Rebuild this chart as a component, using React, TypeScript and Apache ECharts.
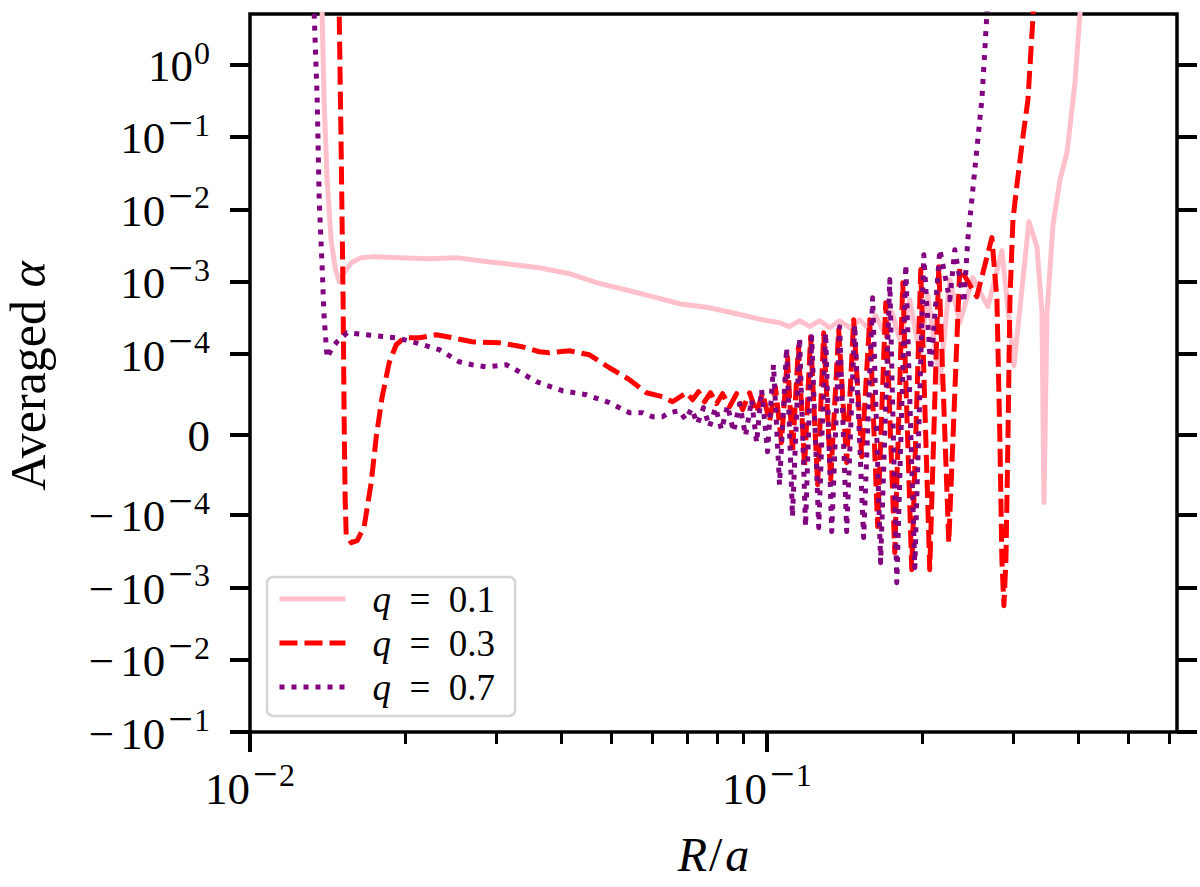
import { useEffect, useRef } from "react";
import * as echarts from "echarts";

// symlog scale as matplotlib draws it (linthresh 1e-4, linscale 1)
const LINTHRESH = 1e-4;
const LINSCALE = 1 / (1 - 1 / 10);

const X_MIN = 0.01;
const X_MAX = 0.6216;
const Y_MIN = -0.1;
const Y_MAX = 5;

const X_MAJOR_TICKS = [0.01, 0.1];
const X_MINOR_TICKS = [
  0.02, 0.03, 0.04, 0.05, 0.06, 0.07, 0.08, 0.09, 0.2, 0.3, 0.4, 0.5, 0.6,
];
const Y_TICKS = [-0.1, -0.01, -0.001, -0.0001, 0, 0.0001, 0.001, 0.01, 0.1, 1];

const SERIES_NAMES = ["q = 0.1", "q = 0.3", "q = 0.7"];
const SERIES_COLORS = ["#ffc0cb", "#ff0000", "#800080"];

// [R/a, averaged alpha]
const q01: [number, number][] = [
  [0.01367, 50], [0.01379, 5.1], [0.01391, 0.329], [0.0141, 0.0258],
  [0.01435, 0.00381], [0.01461, 0.00156], [0.01488, 0.001], [0.01521, 0.00133],
  [0.0157, 0.00183], [0.01641, 0.00215], [0.01739, 0.00222], [0.01944, 0.00215],
  [0.02223, 0.00208], [0.02507, 0.00215], [0.02778, 0.00195], [0.03133, 0.00177],
  [0.0363, 0.00156], [0.04149, 0.00129], [0.0468, 0.00097], [0.05422, 0.00075],
  [0.06115, 0.000601], [0.06776, 0.000496], [0.07746, 0.000437], [0.08738, 0.000361],
  [0.09811, 0.000298], [0.1058, 0.000271], [0.1106, 0.000239], [0.1157, 0.000289],
  [0.121, 0.000239], [0.1265, 0.000289], [0.1323, 0.000231], [0.1383, 0.000289],
  [0.1446, 0.000231], [0.1512, 0.000298], [0.1567, 0.000231], [0.1624, 0.000339],
  [0.1683, 0.000203], [0.1745, 0.000385], [0.1808, 0.000158], [0.189, 0.000564],
  [0.1976, 0.000099], [0.2048, 0.000661], [0.2161, 0.0000643], [0.2259, 0.00107],
  [0.2362, 0.000271], [0.2503, 0.00114], [0.2677, 0.000451], [0.2849, 0.00268],
  [0.3006, 0.0000855], [0.3214, 0.00676], [0.3331, 0.00305], [0.3406, 0.000373],
  [0.3437, -0.0000847], [0.3483, 0.000373], [0.3578, 0.00614], [0.3691, 0.0258],
  [0.3808, 0.0608], [0.3946, 0.565], [0.4035, 5.1], [0.4071, 50],
];

const q03: [number, number][] = [
  [0.01474, 50], [0.01488, 5.1], [0.01501, 0.0669], [0.01514, 0.000564],
  [0.01521, 0.0000184], [0.01528, -0.000081], [0.01535, -0.000187], [0.0157, -0.000242],
  [0.01612, -0.000227], [0.01663, -0.000145], [0.01716, -0.0000599], [0.01755, -0.0000027],
  [0.01802, 0.000047], [0.01859, 0.0000892], [0.01918, 0.0001345], [0.01988, 0.000168],
  [0.02126, 0.000168], [0.02293, 0.000185], [0.02463, 0.000168], [0.02692, 0.000148],
  [0.03037, 0.000143], [0.03365, 0.000126], [0.0363, 0.0001076], [0.03795, 0.000104],
  [0.04149, 0.000111], [0.04536, 0.0000991], [0.04959, 0.000083], [0.05422, 0.0000681],
  [0.05849, 0.0000519], [0.06281, 0.000047], [0.06567, 0.0000407], [0.06991, 0.0000519],
  [0.0718, 0.0000432], [0.07375, 0.0000532], [0.07575, 0.0000407], [0.07781, 0.0000519],
  [0.07992, 0.0000383], [0.08208, 0.0000507], [0.08469, 0.0000345], [0.08738, 0.0000507],
  [0.08974, 0.0000308], [0.09259, 0.0000519], [0.09553, 0.0000271], [0.09811, 0.0000519],
  [0.1012, 0.0000159], [0.1039, 0.0000594], [0.1067, -0.0000102], [0.1096, 0.0000966],
  [0.1121, -0.0000226], [0.1151, 0.000126], [0.1183, -0.00004], [0.1215, 0.0001735],
  [0.1254, -0.0000624], [0.1288, 0.000197], [0.1329, -0.0000561], [0.1377, 0.000217],
  [0.1427, -0.000035], [0.1472, 0.000298], [0.1526, -0.0000276], [0.1581, 0.000298],
  [0.1638, -0.000145], [0.1698, 0.000512], [0.1768, -0.000332], [0.1832, 0.000969],
  [0.1907, -0.000571], [0.1985, 0.00147], [0.2066, -0.000571], [0.2151, 0.00161],
  [0.2249, -0.000242], [0.2362, 0.00156], [0.2548, 0.00062], [0.2725, 0.00406],
  [0.2787, 0.000564], [0.2824, -0.0000065], [0.2849, -0.000415], [0.2875, -0.0018],
  [0.2901, -0.000415], [0.2927, -0.0000065], [0.2953, 0.000564], [0.2993, 0.0072],
  [0.3047, 0.022], [0.313, 0.1013], [0.32, 0.329], [0.3273, 4.63], [0.3302, 50],
];

const q07: [number, number][] = [
  [0.01319, 50], [0.01331, 5.1], [0.01349, 0.329], [0.01361, 0.0136],
  [0.01379, 0.00161], [0.01391, 0.000328], [0.0141, 0.0000954], [0.01442, 0.000122],
  [0.01474, 0.000148], [0.01542, 0.000197], [0.01678, 0.000185], [0.01918, 0.000168],
  [0.02097, 0.000143], [0.02324, 0.000115], [0.02541, 0.0000904], [0.02692, 0.0000867],
  [0.02866, 0.0000842], [0.03133, 0.0000867], [0.0332, 0.000078], [0.03581, 0.0000656],
  [0.04021, 0.0000544], [0.04476, 0.0000494], [0.04959, 0.0000395], [0.05422, 0.0000271],
  [0.05745, 0.0000271], [0.06007, 0.0000221], [0.06281, 0.0000221], [0.0648, 0.0000271],
  [0.06776, 0.0000296], [0.0696, 0.0000184], [0.07148, 0.000032], [0.07342, 0.0000134],
  [0.07541, 0.0000333], [0.07746, 0.0000097], [0.07956, 0.0000333], [0.08172, 0.000006],
  [0.08393, 0.0000358], [0.08621, 0.0000035], [0.08855, 0.0000383], [0.09095, -0.0000015],
  [0.09342, 0.0000432], [0.09553, -0.0000102], [0.09768, 0.0000557], [0.1003, -0.0000214],
  [0.103, 0.0000867], [0.1058, -0.0000624], [0.1092, 0.000122], [0.1121, -0.0001055],
  [0.1157, 0.000168], [0.1188, -0.000145], [0.1221, 0.0001735], [0.126, -0.00015],
  [0.1299, 0.000197], [0.1335, -0.00017], [0.1383, 0.000239], [0.1427, -0.00017],
  [0.1479, 0.000254], [0.1539, -0.000206], [0.1602, 0.000601], [0.166, -0.000457],
  [0.1729, 0.00107], [0.1784, -0.000864], [0.1857, 0.00172], [0.1933, -0.000536],
  [0.2012, 0.00236], [0.2075, 0.0000805], [0.2161, 0.00277], [0.2259, 0.000564],
  [0.231, 0.00277], [0.2405, 0.000512], [0.2448, 0.00381], [0.2492, 0.0136],
  [0.2548, 0.0669], [0.2606, 0.329], [0.2641, 1.62], [0.2665, 5.1], [0.2689, 50],
];

const FONT = "'Liberation Serif', 'Times New Roman', serif";
const MINUS = "\u2212";

function symlog(v: number) {
  const a = Math.abs(v);
  if (a <= LINTHRESH) return (v / LINTHRESH) * LINSCALE;
  return Math.sign(v) * (LINSCALE + Math.log10(a / LINTHRESH));
}

// b: base text, n: leading minus, m: raised minus of the exponent, s: exponent digits
const tickRich = {
  b: { fontFamily: FONT, fontSize: 45, color: "#000", verticalAlign: "bottom", padding: [14, 0, 0, 0] },
  n: { fontFamily: FONT, fontSize: 45, color: "#000", verticalAlign: "bottom", padding: [14, 6, 0, 0] },
  m: { fontFamily: FONT, fontSize: 44, color: "#000", verticalAlign: "bottom", padding: [0, 0, 15, 3] },
  s: { fontFamily: FONT, fontSize: 32, color: "#000", verticalAlign: "bottom", padding: [0, 0, 20, 1] },
};

function powerLabel(negative: boolean, e: number) {
  const sup = e < 0 ? `{m|${MINUS}}{s|${Math.abs(e)}}` : `{s|${e}}`;
  return `${negative ? `{n|${MINUS}}` : ""}{b|10}${sup}`;
}

function yLabel(t: number) {
  const v = Y_TICKS.find((y) => Math.abs(symlog(y) - t) < 1e-6);
  if (v === undefined) return "";
  if (v === 0) return "{b|0}";
  const e = Math.round(Math.log10(Math.abs(v)));
  return powerLabel(v < 0, e);
}

function xLabel(t: number) {
  return powerLabel(false, Math.round(t));
}

export default function App() {
  const ref = useRef<HTMLDivElement>(null);

  useEffect(() => {
    document.body.style.margin = "0";
    if (!ref.current) return;
    const chart = echarts.init(ref.current, undefined, { renderer: "svg" });

    const xMajor = X_MAJOR_TICKS.map((x) => Math.log10(x));
    const xMinor = X_MINOR_TICKS.map((x) => Math.log10(x));
    const yTicks = Y_TICKS.map(symlog);
    const xRange = { min: Math.log10(X_MIN), max: Math.log10(X_MAX) };
    const yRange = { min: symlog(Y_MIN), max: symlog(Y_MAX) };

    const lineTypes: any[] = ["solid", [18, 7], [5, 7]];
    const datasets = [q01, q03, q07];

    const hiddenLine = { show: false, onZero: false };

    chart.setOption({
      animation: false,
      grid: {
        left: 250,
        right: 23,
        top: 14,
        bottom: 155,
        outerBoundsMode: "none",
        containLabel: false,
        show: true,
        borderColor: "#000",
        borderWidth: 3.5,
        backgroundColor: "transparent",
      },
      legend: {
        orient: "vertical",
        left: 267,
        top: 577,
        data: SERIES_NAMES,
        selectedMode: false,
        itemWidth: 66,
        itemHeight: 20,
        itemGap: 0,
        padding: [0, 20, 7, 10],
        borderColor: "#d5d5d5",
        borderWidth: 2.5,
        borderRadius: 6,
        backgroundColor: "rgba(255,255,255,0.8)",
        itemStyle: { opacity: 0, color: "rgba(0,0,0,0)", borderWidth: 0 },
        lineStyle: { width: 5 },
        formatter: (name: string) => `{i|q}{r|\u2002=\u2002${name.split("= ")[1]}}`,
        textStyle: {
          lineHeight: 44,
          padding: [0, 0, 0, 22],
          rich: {
            i: { fontFamily: FONT, fontSize: 37, fontStyle: "italic", color: "#000", lineHeight: 44 },
            r: { fontFamily: FONT, fontSize: 37, color: "#000", lineHeight: 44 },
          },
        },
      },
      xAxis: [
        {
          type: "value",
          position: "bottom",
          ...xRange,
          axisLine: hiddenLine,
          splitLine: { show: false },
          axisTick: {
            show: true,
            inside: false,
            length: 20,
            customValues: xMajor,
            lineStyle: { color: "#000", width: 4 },
          },
          axisLabel: {
            show: true,
            customValues: xMajor,
            margin: 20,
            formatter: xLabel,
            rich: tickRich,
          },
          name: "{i|R}{r|/}{i|a}",
          nameLocation: "middle",
          nameGap: 98,
          nameTextStyle: {
            rich: {
              i: { fontFamily: FONT, fontSize: 48, fontStyle: "italic", color: "#000" },
              r: { fontFamily: FONT, fontSize: 48, color: "#000", padding: [0, 3, 0, 2] },
            },
          },
        },
        {
          type: "value",
          position: "bottom",
          ...xRange,
          axisLine: hiddenLine,
          splitLine: { show: false },
          axisLabel: { show: false },
          axisTick: {
            show: true,
            inside: false,
            length: 12,
            customValues: xMinor,
            lineStyle: { color: "#000", width: 3 },
          },
        },
      ],
      yAxis: [
        {
          type: "value",
          position: "left",
          ...yRange,
          axisLine: hiddenLine,
          splitLine: { show: false },
          axisTick: {
            show: true,
            inside: false,
            length: 20,
            customValues: yTicks,
            lineStyle: { color: "#000", width: 4 },
          },
          axisLabel: {
            show: true,
            customValues: yTicks,
            margin: 40,
            padding: [0, 0, 11, 0],
            formatter: yLabel,
            rich: tickRich,
          },
          name: "{r|Averaged }{i|\u03b1}",
          nameLocation: "middle",
          nameRotate: 90,
          nameGap: 200,
          nameTextStyle: {
            padding: [0, 6, 0, 0],
            rich: {
              i: { fontFamily: FONT, fontSize: 50, fontStyle: "italic", color: "#000", lineHeight: 44 },
              r: { fontFamily: FONT, fontSize: 50, color: "#000", lineHeight: 44 },
            },
          },
        },
        {
          type: "value",
          position: "right",
          ...yRange,
          axisLine: hiddenLine,
          splitLine: { show: false },
          axisLabel: { show: false },
          axisTick: {
            show: true,
            inside: false,
            length: 20,
            customValues: yTicks,
            lineStyle: { color: "#000", width: 4 },
          },
        },
      ],
      series: datasets.map((d, i) => ({
        name: SERIES_NAMES[i],
        type: "line",
        xAxisIndex: 0,
        yAxisIndex: 0,
        symbol: "none",
        silent: true,
        clip: true,
        data: d.map(([r, a]) => [Math.log10(r), symlog(a)]),
        lineStyle: {
          color: SERIES_COLORS[i],
          width: 5,
          type: lineTypes[i],
          cap: "butt",
          join: "round",
        },
        itemStyle: { color: SERIES_COLORS[i] },
      })),
    });

    return () => chart.dispose();
  }, []);

  return <div ref={ref} style={{ width: 1200, height: 887 }} />;
}
